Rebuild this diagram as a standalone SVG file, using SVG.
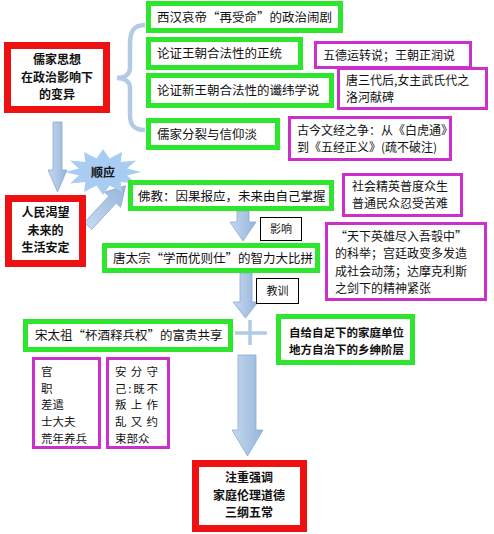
<svg xmlns="http://www.w3.org/2000/svg" width="494" height="534" viewBox="0 0 494 534">
<style>
.g{fill:#fff;stroke:#2fe62f;stroke-width:5}
.r{fill:#fff;stroke:#ee1111;stroke-width:7}
.m{fill:#fff;stroke:#cc2fcc;stroke-width:3}
.l{fill:#fff;stroke:#000;stroke-width:1}
text{font-family:"Noto Sans CJK SC","Noto Sans",sans-serif;fill:#111}
.t{font-size:12.5px}
.s{font-size:12px}
.sm{font-size:11.5px}
.b{font-size:12px;font-weight:bold;text-anchor:middle}
.bb{font-size:11.5px;font-weight:bold}
.lab{font-size:11px;text-anchor:middle}
.arr{fill:url(#ag);stroke:#8aaad3;stroke-width:0.8}
</style>
<defs>
<linearGradient id="ag" x1="0" y1="0" x2="1" y2="0">
<stop offset="0" stop-color="#c6d9ef"/>
<stop offset="1" stop-color="#95b4db"/>
</linearGradient>
</defs>
<rect width="494" height="534" fill="#fff"/>
<g id="connectors">
<path d="M145,25 C133,25 130,32 130,45 L130,68 C130,74 125,78 117,78 C125,78 130,82 130,88 L130,115 C130,125 134,130 145,130" fill="none" stroke="#b3cae4" stroke-width="4.5"/>
<polygon class="arr" points="53,122 62,122 62,170 67,170 57.5,192 48,170 53,170"/>
<polygon class="arr" points="0,-5 36,-5 36,-11 55,0 36,11 36,5 0,5" transform="translate(88,226) rotate(-47)"/>
<polygon class="arr" points="237,211 249,211 249,222 256,222 243,241 230,222 237,222"/>
<polygon class="arr" points="240,273 252,273 252,302 258,302 245.5,318 233,302 240,302"/>
<path d="M235,333 H267 M250,320 V345" stroke="#b3cae4" stroke-width="3.5" fill="none"/>
<polygon class="arr" points="238,355 256,355 256,430 263,430 247.5,456 232,430 238,430"/>
</g>
<g id="star">
<polygon points="141,172 127.2,175.6 135.9,183.5 120.7,181.9 122,191.9 109.5,185.5 103,195 96.5,185.5 84,191.9 85.3,181.9 70.1,183.5 78.8,175.6 65,172 78.8,168.4 70.1,160.5 85.3,162.1 84,152.1 96.5,158.5 103,149 109.5,158.5 122,152.1 120.7,162.1 135.9,160.5 127.2,168.4" fill="#a9cdf2"/>
<text class="b" x="103" y="177" font-size="13">顺应</text>
</g>
<g id="red1"><rect class="r" x="7.5" y="45.5" width="99" height="64"/>
<text class="b" x="57" y="64">儒家思想</text><text class="b" x="57" y="81.5">在政治影响下</text><text class="b" x="57" y="99">的变异</text></g>
<g id="g1"><rect class="g" x="148.5" y="3.5" width="192" height="27"/><text class="t" x="157" y="22">西汉哀帝“再受命”的政治闹剧</text></g>
<g id="g2"><rect class="g" x="148.5" y="39.5" width="152" height="28"/><text class="t" x="157" y="58">论证王朝合法性的正统</text></g>
<g id="g3"><rect class="g" x="148.5" y="75.5" width="183" height="30"/><text class="t" x="157" y="95">论证新王朝合法性的谶纬学说</text></g>
<g id="g4"><rect class="g" x="148.5" y="120.5" width="129" height="27"/><text class="t" x="157" y="139">儒家分裂与信仰淡</text></g>
<g id="m1"><rect class="m" x="315.5" y="42.5" width="155" height="25"/><text class="s" x="323" y="59.5">五德运转说；王朝正润说</text></g>
<g id="m2"><rect class="m" x="338.5" y="68.5" width="148" height="40"/><text class="s" x="346" y="85">唐三代后,女主武氏代之</text><text class="s" x="346" y="102.4">洛河献碑</text></g>
<g id="m3"><rect class="m" x="289.5" y="117.5" width="161" height="42"/><text class="s" x="297" y="135">古今文经之争：从《白虎通》</text><text class="s" x="297" y="152.4">到《五经正义》(疏不破注)</text></g>
<g id="red2"><rect class="r" x="8.5" y="198.5" width="74" height="65"/>
<text class="b" x="45.5" y="217">人民渴望</text><text class="b" x="45.5" y="234.5">未来的</text><text class="b" x="45.5" y="252">生活安定</text></g>
<g id="g5"><rect class="g" x="130.5" y="182.5" width="201" height="26"/><text class="t" x="138" y="200.5">佛教：因果报应，未来由自己掌握</text></g>
<g id="m4"><rect class="m" x="343.5" y="174.5" width="118" height="41"/><text class="s" x="352" y="191">社会精英普度众生</text><text class="s" x="352" y="208.4">普通民众忍受苦难</text></g>
<g id="lab1"><rect class="l" x="260.5" y="217.5" width="41" height="23"/><text class="lab" x="281" y="233">影响</text></g>
<g id="g6"><rect class="g" x="104.5" y="245.5" width="213" height="25"/><text class="t" x="113" y="262.5">唐太宗“学而优则仕”的智力大比拼</text></g>
<g id="m5"><rect class="m" x="326.5" y="223.5" width="159" height="76"/>
<text class="s" x="335" y="241">“天下英雄尽入吾彀中”</text><text class="s" x="335" y="258.4">的科举；宫廷政变多发造</text><text class="s" x="335" y="275.8">成社会动荡；达摩克利斯</text><text class="s" x="335" y="293.2">之剑下的精神紧张</text></g>
<g id="lab2"><rect class="l" x="256.5" y="278.5" width="42" height="25"/><text class="lab" x="277.5" y="295">教训</text></g>
<g id="g7"><rect class="g" x="25.5" y="321.5" width="205" height="28"/><text class="t" x="35" y="340">宋太祖“杯酒释兵权”的富贵共享</text></g>
<g id="g8"><rect class="g" x="278.5" y="316.5" width="134" height="46"/><text class="bb" x="289" y="337">自给自足下的家庭单位</text><text class="bb" x="289" y="353.7">地方自治下的乡绅阶层</text></g>
<g id="m6"><rect class="m" x="33.5" y="358.5" width="66" height="89"/>
<text class="sm" x="41" y="376">官</text><text class="sm" x="41" y="392.7">职</text><text class="sm" x="41" y="409.4">差遣</text><text class="sm" x="41" y="426.1">士大夫</text><text class="sm" x="41" y="442.8">荒年养兵</text></g>
<g id="m7"><rect class="m" x="107.5" y="358.5" width="61" height="89"/>
<text class="sm" x="115" y="376" textLength="43" lengthAdjust="spacing">安分守</text><text class="sm" x="115" y="392.7" textLength="43" lengthAdjust="spacing">己:既不</text><text class="sm" x="115" y="409.4" textLength="43" lengthAdjust="spacing">叛上作</text><text class="sm" x="115" y="426.1" textLength="43" lengthAdjust="spacing">乱又约</text><text class="sm" x="115" y="442.8">束部众</text></g>
<g id="red3"><rect class="r" x="195.5" y="463.5" width="108" height="65"/>
<text class="b" x="249" y="482">注重强调</text><text class="b" x="249" y="499.5">家庭伦理道德</text><text class="b" x="249" y="517">三纲五常</text></g>
</svg>
